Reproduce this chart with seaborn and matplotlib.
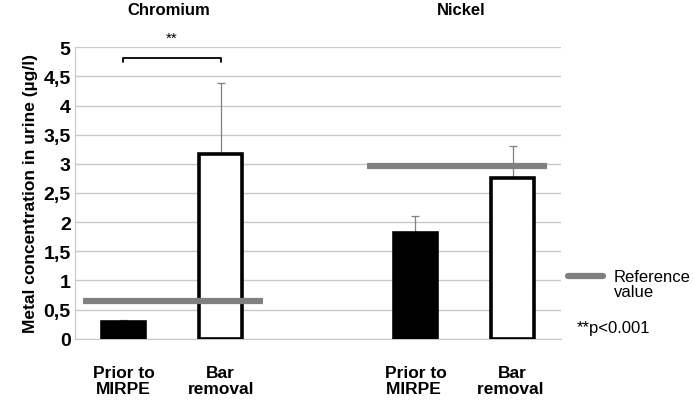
import seaborn as sns
import matplotlib.pyplot as plt
import pandas as pd

# data
groups = ['Prior to\nMIRPE', 'Bar\nremoval', ' ', 'Prior to\nMIRPE ', 'Bar\nremoval ']
metals = ['Chromium', 'Chromium', '', 'Nickel', 'Nickel']
means = [0.28, 3.16, None, 1.82, 2.76]
err_up = [0.04, 1.22, None, 0.28, 0.54]
fills = ['black', 'white', 'white', 'black', 'white']
ref_chromium = 0.64
ref_nickel = 2.97

sns.set_style('white')
plt.rcParams['font.family'] = ['Liberation Sans', 'DejaVu Sans']
plt.rcParams['text.color'] = 'black'
plt.rcParams['axes.labelcolor'] = 'black'
plt.rcParams['xtick.color'] = 'black'
plt.rcParams['ytick.color'] = 'black'

df = pd.DataFrame({'group': groups, 'value': means, 'err': err_up})
df_bars = df.dropna()

fig, ax = plt.subplots(figsize=(6.93, 4.02), dpi=100)
fig.subplots_adjust(left=0.108, right=0.81, top=0.88, bottom=0.155)

sns.barplot(data=df_bars, x='group', y='value', order=groups, width=0.44,
            color='white', edgecolor='black', linewidth=2.6, ax=ax, zorder=3)
for p, g in zip(ax.patches, df_bars['group']):
    p.set_facecolor(fills[groups.index(g)])

xs = [groups.index(g) for g in df_bars['group']]
ax.errorbar(xs, df_bars['value'], yerr=[[0] * len(xs), df_bars['err']],
            fmt='none', ecolor='#808080', elinewidth=0.9, capsize=3, capthick=0.9, zorder=2)

ax.hlines(ref_chromium, -0.42, 1.43, color='#808080', linewidth=4.5, zorder=4)
ax.hlines(ref_nickel, 2.5, 4.35, color='#808080', linewidth=4.5, zorder=4)

ax.set_ylim(0, 5)
ax.set_xlim(-0.5, 4.5)
ax.set_yticks([0, 0.5, 1, 1.5, 2, 2.5, 3, 3.5, 4, 4.5, 5])
ax.set_yticklabels(['0', '0,5', '1', '1,5', '2', '2,5', '3', '3,5', '4', '4,5', '5'],
                   fontsize=14, fontweight='bold')
ax.set_xticks(range(len(groups)))
ax.set_xticklabels(groups, fontsize=12.5, fontweight='bold', linespacing=1.05)
ax.tick_params(axis='x', length=0, pad=19)
ax.tick_params(axis='y', length=0, pad=3)
ax.yaxis.grid(True, color='#c8c8c8', linewidth=1)
ax.set_axisbelow(True)
for s in ['top', 'right']:
    ax.spines[s].set_visible(False)
ax.spines['left'].set_color('#c8c8c8')
ax.spines['bottom'].set_color('#c8c8c8')
ax.set_xlabel('')
ax.set_ylabel('Metal concentration in urine (µg/l)', fontsize=12.5, fontweight='bold', labelpad=4)

# significance bracket
ax.plot([0, 0, 1, 1], [4.75, 4.81, 4.81, 4.75], color='black', linewidth=1.3, clip_on=False)
ax.text(0.5, 5.05, '**', ha='center', va='bottom', fontsize=11)

fig.text(0.243, 0.975, 'Chromium', ha='center', va='center', fontsize=12, fontweight='bold')
fig.text(0.665, 0.975, 'Nickel', ha='center', va='center', fontsize=12, fontweight='bold')

# legend-like annotation
fig.lines.append(plt.Line2D([0.82, 0.87], [0.31, 0.31], color='#808080', linewidth=4.5,
                            transform=fig.transFigure))
fig.text(0.886, 0.291, 'Reference\nvalue', ha='left', va='center', fontsize=12, linespacing=1.05)
fig.text(0.832, 0.182, '**p<0.001', ha='left', va='center', fontsize=12)

fig.savefig('out.png', dpi=100)
